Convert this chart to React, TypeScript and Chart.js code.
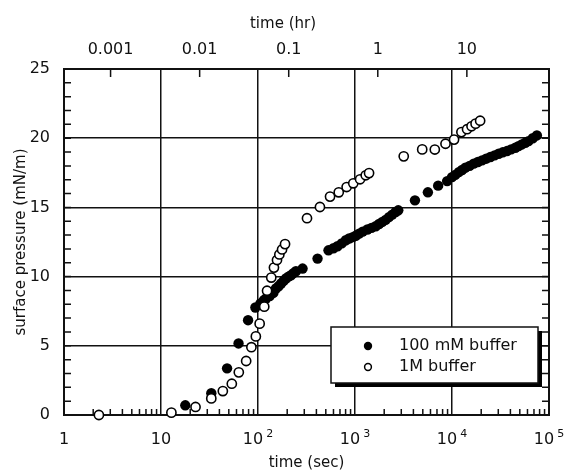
import { useEffect, useRef } from 'react';
import { Chart, registerables } from 'chart.js';

Chart.register(...registerables);

const FONT = '"DejaVu Sans", sans-serif';
const INK = '#111';

// Series labels
const seriesLabels = ['100 mM buffer', '1M buffer'];

// Axis ticks
const secTicks = [1, 10, 100, 1000, 10000, 100000];
const hrTicks = [0.001, 0.01, 0.1, 1, 10];
const hrRange = [3.14e-4, 83.6];
const pressureRange = [0, 25];

// 100 mM buffer: time (s) and surface pressure (mN/m)
const time100mM = [
  17.8, 33, 48, 63, 79, 94, 106, 115, 121, 132, 144, 153, 163, 173, 184, 194, 206, 219, 232, 246,
  288, 411, 533, 600, 660, 730, 804, 870, 950, 1019, 1102, 1200, 1342, 1480, 1636, 1770, 1914, 2070,
  2240, 2420, 2624, 2793, 4150, 5640, 7200, 8910, 10000, 10800, 11750, 12700, 13760, 15200, 16750,
  18500, 20400, 22500, 24900, 27500, 30300, 33400, 36900, 40700, 45000, 48500, 52500, 57000, 61500,
  68000, 75000,
];
const pressure100mM = [
  0.7, 1.57, 3.37, 5.17, 6.85, 7.77, 8.06, 8.3, 8.42, 8.6, 8.82, 9.14, 9.3, 9.5, 9.7, 9.86, 10.0, 10.1, 10.25, 10.39,
  10.58, 11.3, 11.9, 12.05, 12.19, 12.4, 12.63, 12.75, 12.85, 12.95, 13.1, 13.25, 13.4, 13.52, 13.64, 13.8, 13.95, 14.1,
  14.3, 14.48, 14.67, 14.79, 15.51, 16.09, 16.57, 16.9, 17.19, 17.35, 17.55, 17.7, 17.87, 18.0, 18.16,
  18.28, 18.4, 18.52, 18.64, 18.76, 18.88, 18.98, 19.07, 19.19, 19.31, 19.43, 19.55, 19.67, 19.79,
  20.0, 20.2,
];

// 1M buffer: time (s) and surface pressure (mN/m)
const time1M = [
  2.29, 12.8, 22.7, 33, 43.4, 53.7, 63.4, 75.5, 85.5, 95, 104, 116, 124, 137, 146, 157, 166, 177, 190,
  320, 435, 553, 680, 820, 960, 1128, 1290, 1396, 3180, 4930, 6650, 8570, 10500, 12500, 14300, 15900,
  17500, 19500,
];
const pressure1M = [
  0, 0.17, 0.58, 1.2, 1.73, 2.26, 3.08, 3.9, 4.9, 5.68, 6.6, 7.83, 8.98, 9.93, 10.65, 11.2, 11.6, 11.96, 12.35,
  14.22, 15.03, 15.78, 16.09, 16.47, 16.74, 17.03, 17.32, 17.48, 18.69, 19.19, 19.18, 19.6, 19.9, 20.44, 20.65, 20.86,
  21.05, 21.26,
];

const zip = (xs: number[], ys: number[]) => xs.map((x, i) => ({ x, y: ys[i] }));

// Frame and inward tick marks, drawn beneath the markers
const framePlugin = {
  id: 'frameTicks',
  beforeDatasetsDraw(chart: any) {
    const { ctx, chartArea: a, scales } = chart;
    const xs = scales.x;
    const ys = scales.y;
    const xt = scales.xTop;
    ctx.save();
    ctx.strokeStyle = INK;
    ctx.lineWidth = 1.5;
    ctx.beginPath();
    // minor ticks along the bottom
    for (let d = 1; d < 100000; d *= 10) {
      for (let k = 2; k <= 9; k++) {
        const px = xs.getPixelForValue(k * d);
        ctx.moveTo(px, a.bottom);
        ctx.lineTo(px, a.bottom - 6);
      }
    }
    // minor ticks on left and right
    for (let v = pressureRange[0] + 1; v < pressureRange[1]; v++) {
      const py = ys.getPixelForValue(v);
      ctx.moveTo(a.left, py);
      ctx.lineTo(a.left + 7, py);
      ctx.moveTo(a.right, py);
      ctx.lineTo(a.right - 7, py);
    }
    // hour ticks along the top
    hrTicks.forEach((h) => {
      const px = xt.getPixelForValue(h);
      ctx.moveTo(px, a.top);
      ctx.lineTo(px, a.top + 8);
    });
    ctx.stroke();
    ctx.lineWidth = 2;
    ctx.strokeRect(a.left, a.top, a.right - a.left, a.bottom - a.top);
    ctx.restore();
  },
  afterDraw(chart: any) {
    const { ctx, chartArea: a, scales } = chart;
    const xs = scales.x;
    ctx.save();
    ctx.fillStyle = INK;
    // bottom decade labels with raised exponents
    const baseFont = `16px ${FONT}`;
    const supFont = `11px ${FONT}`;
    const labelY = a.bottom + 25;
    secTicks.forEach((v) => {
      const px = xs.getPixelForValue(v);
      const exp = Math.round(Math.log10(v));
      const base = exp < 2 ? String(v) : '10';
      const sup = exp < 2 ? '' : String(exp);
      ctx.font = baseFont;
      const bw = ctx.measureText(base).width;
      ctx.font = supFont;
      const sw = sup ? ctx.measureText(sup).width + 3 : 0;
      const start = px - (bw + sw) / 2;
      ctx.textAlign = 'left';
      ctx.textBaseline = 'middle';
      ctx.font = baseFont;
      ctx.fillText(base, start, labelY);
      if (sup) {
        ctx.font = supFont;
        ctx.fillText(sup, start + bw + 3, labelY - 6);
      }
    });

    // top axis title
    ctx.font = `15px ${FONT}`;
    ctx.textAlign = 'center';
    ctx.textBaseline = 'middle';
    ctx.fillText('time (hr)', 283, 24);

    // legend box with drop shadow
    const bx = 331;
    const by = 327;
    const bw = 207;
    const bh = 56;
    ctx.fillStyle = '#000';
    ctx.fillRect(bx + 4, by + 4, bw, bh);
    ctx.fillStyle = '#fff';
    ctx.fillRect(bx, by, bw, bh);
    ctx.strokeStyle = INK;
    ctx.lineWidth = 1.5;
    ctx.strokeRect(bx, by, bw, bh);

    const rows = [by + 19, by + 40];
    ctx.font = `16px ${FONT}`;
    ctx.textAlign = 'left';
    ctx.textBaseline = 'middle';
    // filled marker
    ctx.fillStyle = '#000';
    ctx.beginPath();
    ctx.arc(bx + 37, rows[0], 4.2, 0, Math.PI * 2);
    ctx.fill();
    // open marker
    ctx.beginPath();
    ctx.arc(bx + 37, rows[1], 3.4, 0, Math.PI * 2);
    ctx.fillStyle = '#fff';
    ctx.fill();
    ctx.lineWidth = 1.5;
    ctx.strokeStyle = '#000';
    ctx.stroke();
    ctx.fillStyle = INK;
    ctx.fillText(seriesLabels[0], bx + 68, rows[0]);
    ctx.fillText(seriesLabels[1], bx + 68, rows[1]);
    ctx.restore();
  },
};

export default function App() {
  const canvasRef = useRef<HTMLCanvasElement | null>(null);

  useEffect(() => {
    if (!canvasRef.current) return;
    const chart = new Chart(canvasRef.current, {
      type: 'scatter',
      data: {
        datasets: [
          {
            label: seriesLabels[1],
            data: zip(time1M, pressure1M),
            pointRadius: 4.6,
            pointBackgroundColor: '#fff',
            pointBorderColor: '#000',
            pointBorderWidth: 1.6,
            clip: false,
            order: 0,
          },
          {
            label: seriesLabels[0],
            data: zip(time100mM, pressure100mM),
            pointRadius: 5.2,
            pointBackgroundColor: '#000',
            pointBorderColor: '#000',
            pointBorderWidth: 0,
            clip: false,
            order: 1,
          },
        ],
      },
      options: {
        responsive: false,
        animation: false,
        layout: { padding: { left: 0, right: 19, top: 0, bottom: 0 } },
        plugins: {
          legend: { display: false },
          tooltip: { enabled: false },
        },
        scales: {
          x: {
            type: 'logarithmic',
            position: 'bottom',
            min: secTicks[0],
            max: secTicks[secTicks.length - 1],
            afterBuildTicks: (scale: any) => {
              scale.ticks = secTicks.map((value) => ({ value }));
            },
            afterFit: (scale: any) => {
              scale.height = 59;
            },
            ticks: { display: false },
            grid: { color: INK, lineWidth: 1.5, drawTicks: false },
            border: { display: false },
            title: {
              display: true,
              text: 'time (sec)',
              color: INK,
              font: { family: FONT, size: 15 },
              padding: { top: 0, bottom: 2 },
            },
          },
          xTop: {
            type: 'logarithmic',
            position: 'top',
            min: hrRange[0],
            max: hrRange[1],
            afterBuildTicks: (scale: any) => {
              scale.ticks = hrTicks.map((value) => ({ value }));
            },
            afterFit: (scale: any) => {
              scale.height = 69;
            },
            ticks: {
              autoSkip: false,
              maxRotation: 0,
              padding: 10,
              color: INK,
              font: { family: FONT, size: 16 },
              callback: (value: any) => String(value),
            },
            grid: { display: false, drawTicks: false },
            border: { display: false },
          },
          y: {
            type: 'linear',
            min: pressureRange[0],
            max: pressureRange[1],
            afterFit: (scale: any) => {
              scale.width = 64;
            },
            ticks: {
              stepSize: 5,
              padding: 14,
              color: INK,
              font: { family: FONT, size: 16 },
            },
            grid: { color: INK, lineWidth: 1.5, drawTicks: false },
            border: { display: false },
            title: {
              display: true,
              text: 'surface pressure (mN/m)',
              color: INK,
              font: { family: FONT, size: 15 },
              padding: { top: 12, bottom: 0 },
            },
          },
        },
      },
      plugins: [framePlugin],
    } as any);
    return () => chart.destroy();
  }, []);

  return (
    <div style={{ position: 'absolute', left: 0, top: 0, width: 568, height: 474, background: '#fff' }}>
      <canvas ref={canvasRef} width={568} height={474} style={{ display: 'block' }} />
    </div>
  );
}
